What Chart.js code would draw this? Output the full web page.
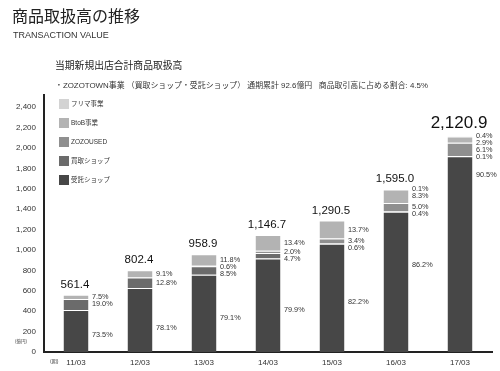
<!DOCTYPE html>
<html>
<head>
<meta charset="utf-8">
<script src="https://cdn.jsdelivr.net/npm/chart.js@4"></script>
<style>
  html, body { margin: 0; padding: 0; background: #fff; }
  #wrap { position: relative; width: 500px; height: 371px; overflow: hidden;
    font-family: "Liberation Sans", Arial, "Noto Sans CJK JP", sans-serif; color: #222; }
  #wrap .t { position: absolute; white-space: nowrap; line-height: 1; }
  canvas { position: absolute; left: 0; top: 0; }
</style>
</head>
<body>
<div id="wrap">
  <canvas id="graph-div" width="500" height="371"></canvas>
  <div class="t" style="left:12px; top:9px; font-size:16px;">商品取扱高の推移</div>
  <div class="t" style="left:13px; top:31px; font-size:9px; color:#333;">TRANSACTION VALUE</div>
  <div class="t" style="left:55px; top:61px; font-size:9.8px; color:#222;">当期新規出店合計商品取扱高</div>
  <div class="t" style="left:55px; top:82px; font-size:7.9px; color:#333;">・ZOZOTOWN事業 （買取ショップ・受託ショップ） 通期累計 92.6億円&nbsp;&nbsp;&nbsp;商品取引高に占める割合: 4.5%</div>
  <div class="t" style="left:15px; top:340px; font-size:4.5px; color:#444;">(億円)</div>
  <div class="t" style="left:50px; top:359px; font-size:5px; color:#444;">(期)</div>
</div>
<script>
// fiscal periods
const periods = ['11/03', '12/03', '13/03', '14/03', '15/03', '16/03', '17/03'];
const yTicks = [0, 200, 400, 600, 800, 1000, 1200, 1400, 1600, 1800, 2000, 2200, 2400];

// transaction value by segment (億円)
const jutakuShop = [412.6, 626.7, 758.5, 916.2, 1060.8, 1374.9, 1919.4];
const kaitoriShop = [106.7, 102.7, 81.5, 53.9, 7.7, 6.4, 2.1];
const zozoUsed = [0, 0, 5.8, 22.9, 43.9, 79.8, 129.4];
const btob = [42.1, 73.0, 113.2, 153.7, 176.8, 132.4, 61.5];
const furima = [0, 0, 0, 0, 0, 1.6, 8.5];
const totals = ['561.4', '802.4', '958.9', '1,146.7', '1,290.5', '1,595.0', '2,120.9'];

// share labels (%)
const jutakuPct = ['73.5%', '78.1%', '79.1%', '79.9%', '82.2%', '86.2%', '90.5%'];
const kaitoriPct = ['19.0%', '12.8%', '8.5%', '4.7%', '0.6%', '0.4%', '0.1%'];
const usedPct = ['', '', '0.6%', '2.0%', '3.4%', '5.0%', '6.1%'];
const btobPct = ['7.5%', '9.1%', '11.8%', '13.4%', '13.7%', '8.3%', '2.9%'];
const furimaPct = ['', '', '', '', '', '0.1%', '0.4%'];

// where the big 受託 label sits, relative to the middle of its segment
const darkLabelShift = [4, 8, 5, 5, 4, -17, -79];

const FONT = '"Liberation Sans", Arial, "Noto Sans CJK JP", sans-serif';

const pctLabels = [jutakuPct, kaitoriPct, usedPct, btobPct, furimaPct];

const seg = (label, data, color) => ({
  label: label,
  data: data,
  backgroundColor: color,
  borderColor: '#ffffff',
  borderWidth: { top: 1, right: 0, bottom: 0, left: 0 },
  borderSkipped: false,
  barPercentage: 0.39,
  categoryPercentage: 1
});

// labels next to / above each bar + legend box
const barLabels = {
  id: 'barLabels',
  afterDatasetsDraw(chart) {
    const ctx = chart.ctx;
    ctx.save();
    ctx.textBaseline = 'middle';
    for (let i = 0; i < periods.length; i++) {
      let prev = -Infinity;
      let topY = null, cx = null, right = null;
      // walk from the top segment down
      for (let d = chart.data.datasets.length - 1; d >= 0; d--) {
        const el = chart.getDatasetMeta(d).data[i];
        const p = el.getProps(['x', 'y', 'base', 'width'], true);
        if (topY === null || p.y < topY) topY = p.y;
        cx = p.x; right = p.x + p.width / 2;
        const txt = pctLabels[d][i];
        if (!txt) continue;
        const mid = (p.y + p.base) / 2;
        let y;
        if (d === 0) {
          y = mid + darkLabelShift[i];
        } else {
          y = Math.max(mid, prev + 7);
        }
        prev = y;
        ctx.fillStyle = '#333';
        ctx.font = '7.3px ' + FONT;
        ctx.textAlign = 'left';
        ctx.fillText(txt, right + 3.5, y);
      }
      // total on top
      const big = i === periods.length - 1;
      ctx.fillStyle = '#111';
      ctx.font = (big ? '17px ' : '11.5px ') + FONT;
      ctx.textAlign = 'center';
      ctx.fillText(totals[i], cx - 1, topY - (big ? 12 : 10));
    }

    // legend, lightest on top
    const ds = chart.data.datasets;
    ctx.textAlign = 'left';
    for (let k = 0; k < ds.length; k++) {
      const d = ds[ds.length - 1 - k];
      const y = 99 + k * 19;
      ctx.fillStyle = d.backgroundColor;
      ctx.fillRect(59, y, 10, 10);
      ctx.fillStyle = '#333';
      ctx.font = '6.5px ' + FONT;
      ctx.fillText(d.label, 71, y + 5);
    }
    ctx.restore();
  }
};

const ctx = document.getElementById('graph-div').getContext('2d');
const myChart = new Chart(ctx, {
  type: 'bar',
  data: {
    labels: periods,
    datasets: [
      seg('受託ショップ', jutakuShop, '#474747'),
      seg('買取ショップ', kaitoriShop, '#6b6b6b'),
      seg('ZOZOUSED', zozoUsed, '#8f8f8f'),
      seg('BtoB事業', btob, '#b3b3b3'),
      seg('フリマ事業', furima, '#d3d3d3')
    ]
  },
  options: {
    responsive: false,
    devicePixelRatio: 1,
    animation: false,
    layout: { padding: { top: 95, right: 8, left: 0, bottom: 0 } },
    plugins: {
      legend: { display: false },
      tooltip: { enabled: false }
    },
    scales: {
      x: {
        stacked: true,
        grid: { display: false, drawTicks: false },
        border: { display: true, color: '#222', width: 2 },
        ticks: { color: '#333', font: { size: 8, family: FONT }, padding: 6 },
        afterFit: (scale) => { scale.height = 19; }
      },
      y: {
        stacked: true,
        min: 0,
        max: 2520,
        grid: { display: false, drawTicks: false },
        border: { display: true, color: '#222', width: 2 },
        ticks: {
          color: '#333',
          font: { size: 8, family: FONT },
          padding: 8,
          stepSize: 200,
          callback: (v) => v.toLocaleString('en-US')
        },
        afterBuildTicks: (scale) => {
          scale.ticks = yTicks.map(v => ({ value: v }));
        },
        afterFit: (scale) => { scale.width = 44; }
      }
    }
  },
  plugins: [barLabels]
});
</script>
</body>
</html>
